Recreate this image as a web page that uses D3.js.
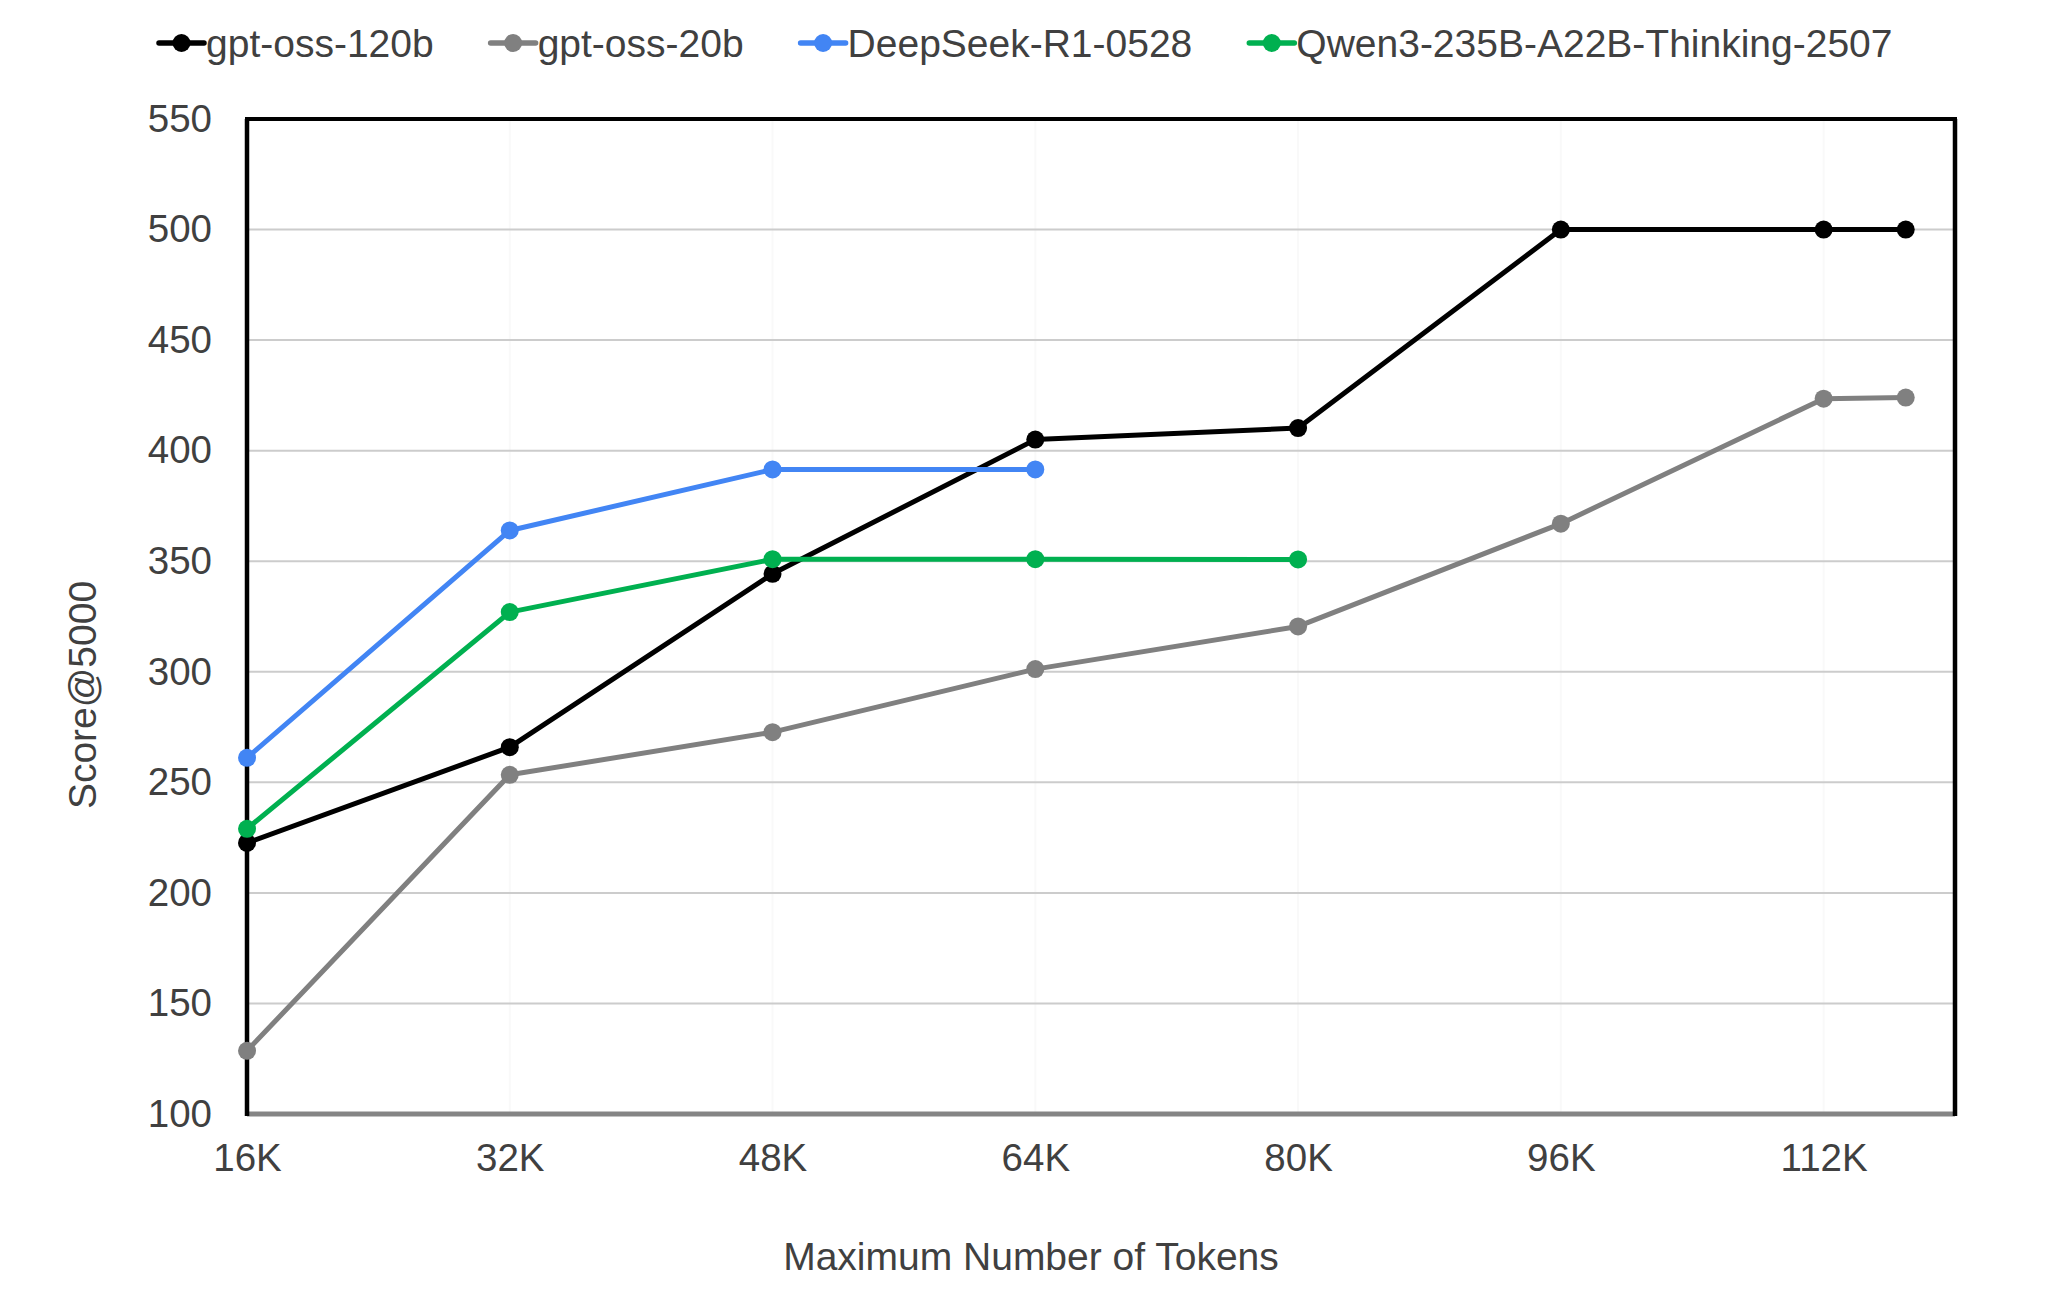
<!DOCTYPE html>
<html>
<head>
<meta charset="utf-8">
<script src="https://cdn.jsdelivr.net/npm/d3@7"></script>
<style>
  html, body { margin: 0; padding: 0; background: #ffffff; }
  svg { display: block; }
  text { font-family: "Liberation Sans", Arial, sans-serif; fill: #404040; }
</style>
</head>
<body>
<svg id="chart" width="2048" height="1315"></svg>
<script>
// ---- data ----
const tokensK = [16, 32, 48, 64, 80, 96, 112, 117];
const seriesNames = ["gpt-oss-120b", "gpt-oss-20b", "DeepSeek-R1-0528", "Qwen3-235B-A22B-Thinking-2507"];
const gptOss120b = [222.6, 265.9, 344.3, 405, 410.2, 500, 500, 500];
const gptOss20b = [128.6, 253.4, 272.7, 301.2, 320.5, 367, 423.5, 424];
const deepSeekR1 = [261.1, 363.9, 391.5, 391.5];
const qwen3 = [229, 327, 350.9, 350.9, 350.8];
const seriesColors = ["#000000", "#808080", "#4285F4", "#00B050"];
const xTickValues = [16, 32, 48, 64, 80, 96, 112];
const xTickLabels = ["16K", "32K", "48K", "64K", "80K", "96K", "112K"];
const yTickValues = [100, 150, 200, 250, 300, 350, 400, 450, 500, 550];
const xTitle = "Maximum Number of Tokens";
const yTitle = "Score@5000";

const seriesValues = [gptOss120b, gptOss20b, deepSeekR1, qwen3];

(function () {
// ---- layout ----
const svg = d3.select("#chart");
const pLeft = 247, pRight = 1955, pTop = 119, pBottom = 1114;

const x = d3.scaleLinear().domain([16, 120]).range([pLeft, pRight]);
const y = d3.scaleLinear().domain([100, 550]).range([pBottom, pTop]);

// very faint vertical grid
svg.append("g")
  .selectAll("line")
  .data(xTickValues.slice(1))
  .join("line")
  .attr("x1", d => x(d)).attr("x2", d => x(d))
  .attr("y1", pTop).attr("y2", pBottom)
  .attr("stroke", "#f9f9f9").attr("stroke-width", 2);

// horizontal grid
svg.append("g")
  .selectAll("line")
  .data(yTickValues.slice(1, -1))
  .join("line")
  .attr("x1", pLeft).attr("x2", pRight)
  .attr("y1", d => y(d)).attr("y2", d => y(d))
  .attr("stroke", "#cccccc").attr("stroke-width", 2);

// y axis labels
const yAxis = d3.axisLeft(y).tickValues(yTickValues).tickSize(0).tickPadding(35).tickFormat(d3.format("d"));
const gy = svg.append("g").attr("transform", `translate(${pLeft},0)`).call(yAxis);
gy.select(".domain").remove();
gy.selectAll("text").attr("font-size", 38.5).attr("fill", "#404040")
  .style("font-family", "'Liberation Sans', Arial, sans-serif");

// x axis labels
const xAxis = d3.axisBottom(x).tickValues(xTickValues).tickSize(0).tickPadding(30)
  .tickFormat((d, i) => xTickLabels[i]);
const gx = svg.append("g").attr("transform", `translate(0,${pBottom})`).call(xAxis);
gx.select(".domain").remove();
gx.selectAll("text").attr("font-size", 38.5).attr("fill", "#404040")
  .style("font-family", "'Liberation Sans', Arial, sans-serif");

// frame
svg.append("line").attr("x1", pLeft).attr("x2", pRight).attr("y1", pBottom).attr("y2", pBottom)
  .attr("stroke", "#858585").attr("stroke-width", 5);
svg.append("line").attr("x1", pLeft - 2).attr("x2", pRight + 2).attr("y1", pTop).attr("y2", pTop)
  .attr("stroke", "#000").attr("stroke-width", 4);
svg.append("line").attr("x1", pLeft).attr("x2", pLeft).attr("y1", pTop).attr("y2", pBottom + 2)
  .attr("stroke", "#000").attr("stroke-width", 4.5);
svg.append("line").attr("x1", pRight).attr("x2", pRight).attr("y1", pTop).attr("y2", pBottom + 2)
  .attr("stroke", "#000").attr("stroke-width", 4.5);

// series
const line = d3.line().x(d => x(d[0])).y(d => y(d[1]));
seriesValues.forEach((vals, si) => {
  const pts = vals.map((v, i) => [tokensK[i], v]);
  const g = svg.append("g");
  g.append("path").attr("d", line(pts)).attr("fill", "none")
    .attr("stroke", seriesColors[si]).attr("stroke-width", 5)
    .attr("stroke-linejoin", "round").attr("stroke-linecap", "round");
  g.selectAll("circle").data(pts).join("circle")
    .attr("cx", d => x(d[0])).attr("cy", d => y(d[1])).attr("r", 9)
    .attr("fill", seriesColors[si]);
});

// titles
svg.append("text").attr("x", 1031).attr("y", 1270).attr("text-anchor", "middle")
  .attr("font-size", 39).text(xTitle);
svg.append("text").attr("transform", "translate(96,695) rotate(-90)").attr("text-anchor", "middle")
  .attr("font-size", 39).text(yTitle);

// legend
const legend = svg.append("g");
let lx = 159;
const ly = 43;
seriesNames.forEach((name, i) => {
  const item = legend.append("g");
  item.append("line").attr("x1", lx).attr("x2", lx + 45).attr("y1", ly).attr("y2", ly)
    .attr("stroke", seriesColors[i]).attr("stroke-width", 5.5).attr("stroke-linecap", "round");
  item.append("circle").attr("cx", lx + 22.5).attr("cy", ly).attr("r", 9).attr("fill", seriesColors[i]);
  const t = item.append("text").attr("x", lx + 47).attr("y", ly + 14).attr("font-size", 39).text(name);
  const w = t.node().getComputedTextLength();
  lx = lx + 47 + w + 57;
});
})();
</script>
</body>
</html>
